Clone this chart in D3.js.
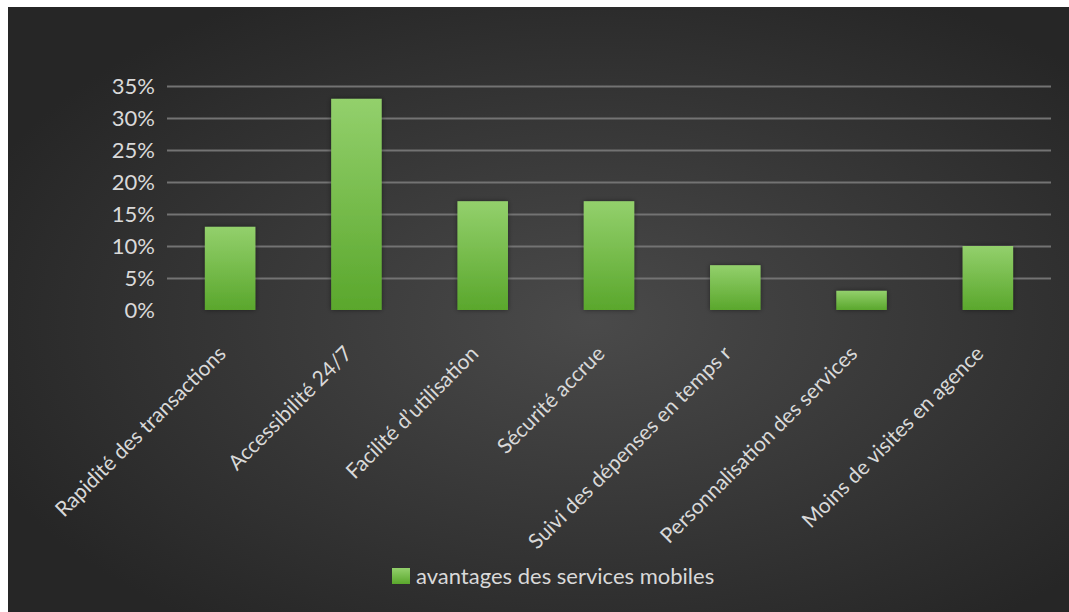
<!DOCTYPE html>
<html>
<head>
<meta charset="utf-8">
<script src="https://cdn.jsdelivr.net/npm/d3@7/dist/d3.min.js"></script>
<style>
  html, body { margin: 0; padding: 0; background: #ffffff; }
  svg { display: block; }
  text { font-family: Lato, "Open Sans", sans-serif; }
</style>
</head>
<body>
<svg id="chart" width="1069" height="612"></svg>
<script>
// Advantages of mobile banking services (share of respondents)
const categories = [
  "Rapidité des transactions",
  "Accessibilité 24/7",
  "Facilité d’utilisation",
  "Sécurité accrue",
  "Suivi des dépenses en temps réel",
  "Personnalisation des services",
  "Moins de visites en agence"
];
const values = [0.13, 0.33, 0.17, 0.17, 0.07, 0.03, 0.10];
const yTicks = [0, 0.05, 0.10, 0.15, 0.20, 0.25, 0.30, 0.35];
const seriesName = "avantages des services mobiles";

const W = 1069, H = 612;
const svg = d3.select("#chart");
const defs = svg.append("defs");

// dark backdrop, lighter towards the middle
const bg = defs.append("radialGradient").attr("id", "bg")
  .attr("cx", "55%").attr("cy", "52%").attr("r", "62%");
bg.append("stop").attr("offset", "0%").attr("stop-color", "#4a4a4a");
bg.append("stop").attr("offset", "100%").attr("stop-color", "#262626");

const barGrad = defs.append("linearGradient").attr("id", "barGrad")
  .attr("x1", 0).attr("y1", 0).attr("x2", 0).attr("y2", 1);
barGrad.append("stop").attr("offset", "0%").attr("stop-color", "#93d06c");
barGrad.append("stop").attr("offset", "100%").attr("stop-color", "#5aa72c");

const shadow = defs.append("filter").attr("id", "shadow")
  .attr("x", "-30%").attr("y", "-30%").attr("width", "160%").attr("height", "160%");
shadow.append("feDropShadow").attr("dx", 0).attr("dy", 0)
  .attr("stdDeviation", 2.5).attr("flood-color", "#000").attr("flood-opacity", 0.45);

svg.append("rect").attr("x", 8).attr("y", 7).attr("width", W - 8).attr("height", H - 7)
  .attr("fill", "url(#bg)");

const plot = { left: 167, right: 1051, top: 86, bottom: 310 };

const x = d3.scaleBand().domain(categories)
  .range([plot.left, plot.right]).paddingInner(0.6).paddingOuter(0.3);
const y = d3.scaleLinear().domain([0, 0.35]).range([plot.bottom, plot.top]);

// gridlines + y labels via axis
const yAxis = d3.axisLeft(y).tickValues(yTicks)
  .tickFormat(d3.format(".0%"))
  .tickSize(-(plot.right - plot.left)).tickPadding(12);

const gy = svg.append("g").attr("transform", `translate(${plot.left},0)`).call(yAxis);
gy.select(".domain").remove();
gy.selectAll(".tick line")
  .attr("stroke", d => d === 0 ? "none" : "#737373")
  .attr("stroke-width", 2);
gy.selectAll(".tick text")
  .attr("fill", "#d9d9d9").style("font-size", "22px").attr("dy", "0.36em");

// bars
svg.append("g").selectAll("rect").data(values).join("rect")
  .attr("x", (d, i) => x(categories[i]))
  .attr("y", d => y(d))
  .attr("width", x.bandwidth())
  .attr("height", d => y(0) - y(d))
  .attr("fill", "url(#barGrad)")
  .attr("filter", "url(#shadow)");

// rotated category labels, long ones cut to a fixed length
const maxLen = 276;
const labels = svg.append("g").selectAll("g").data(categories).join("g")
  .attr("transform", d => `translate(${x(d) + x.bandwidth() / 2 - 3},355) rotate(-45)`);

labels.each(function (d, i) {
  const g = d3.select(this);
  const t = g.append("text")
    .attr("fill", "#d9d9d9").style("font-size", "21px")
    .attr("text-anchor", "end").attr("x", 0).attr("y", 0)
    .text(d);
  const len = t.node().getComputedTextLength();
  if (len > maxLen) {
    const s = 0;
    const cid = "clip" + i;
    defs.append("clipPath").attr("id", cid)
      .append("rect").attr("x", -maxLen + s).attr("y", -30)
      .attr("width", maxLen).attr("height", 40);
    t.attr("text-anchor", "start").attr("x", -maxLen + s)
      .attr("clip-path", `url(#${cid})`);
  }
});

// legend
const lg = svg.append("g").attr("transform", "translate(392,568)");
lg.append("rect").attr("width", 18).attr("height", 16).attr("fill", "url(#barGrad)");
lg.append("text").attr("x", 24).attr("y", 16)
  .attr("fill", "#d9d9d9").style("font-size", "22px").text(seriesName);
</script>
</body>
</html>
